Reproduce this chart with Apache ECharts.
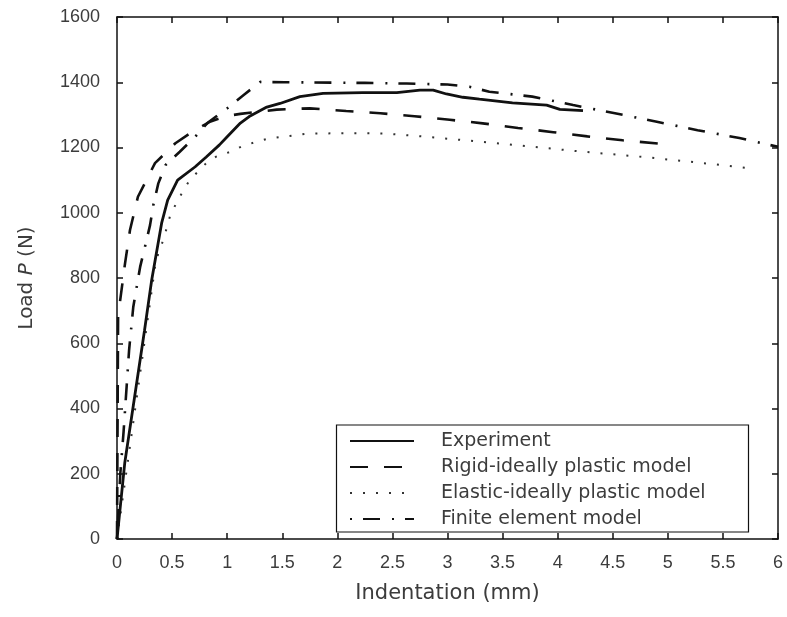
<!DOCTYPE html>
<html>
<head>
<meta charset="utf-8">
<title>Load vs Indentation</title>
<script src="https://cdn.jsdelivr.net/npm/echarts@6/dist/echarts.min.js"></script>
<style>
  html, body { margin: 0; padding: 0; background: #fff; }
  #chart { width: 787px; height: 617px; }
</style>
</head>
<body>
<div id="chart"></div>
<script>
// Series names as shown in the legend
const seriesNames = [
  'Experiment',
  'Rigid-ideally plastic model',
  'Elastic-ideally plastic model',
  'Finite element model'
];

// [indentation (mm), load (N)]
const experiment = [
  [0, 0], [0.07, 232], [0.16, 436], [0.25, 640], [0.315, 794], [0.405, 968],
  [0.46, 1039], [0.55, 1100], [0.71, 1141], [0.81, 1171], [0.93, 1208],
  [1.0, 1233], [1.12, 1275], [1.2, 1295], [1.36, 1324], [1.48, 1335],
  [1.66, 1356], [1.87, 1366], [2.23, 1368], [2.54, 1368], [2.75, 1376],
  [2.87, 1376], [2.99, 1364], [3.14, 1354], [3.29, 1348], [3.59, 1337],
  [3.90, 1330], [4.02, 1317], [4.23, 1313]
];

const rigidPlastic = [
  [0, 0], [0.01, 690], [0.027, 727], [0.073, 845], [0.118, 947], [0.19, 1049],
  [0.345, 1152], [0.53, 1213], [0.7, 1252], [0.85, 1280], [1.0, 1297],
  [1.12, 1303], [1.45, 1316], [1.75, 1320], [2.08, 1312], [2.39, 1305],
  [2.70, 1296], [3.02, 1285], [3.32, 1274], [3.64, 1260], [3.96, 1247],
  [4.27, 1234], [4.59, 1222], [4.91, 1212], [5.0, 1209]
];

const elasticPlastic = [
  [0, 0], [0.345, 834], [0.375, 876], [0.42, 916], [0.48, 988], [0.53, 1024],
  [0.59, 1061], [0.65, 1095], [0.72, 1121], [0.81, 1152], [0.90, 1172],
  [1.03, 1187], [1.13, 1203], [1.24, 1215], [1.36, 1226], [1.48, 1232],
  [1.6, 1237], [1.71, 1242], [2.05, 1244], [2.42, 1243], [2.77, 1234],
  [3.13, 1223], [3.60, 1208], [4.20, 1188], [4.81, 1170], [5.41, 1149],
  [5.73, 1137]
];

const finiteElement = [
  [0, 0], [0.03, 200], [0.06, 330], [0.09, 480], [0.11, 580], [0.148, 712],
  [0.21, 834], [0.254, 896], [0.30, 962], [0.33, 1024], [0.375, 1090],
  [0.44, 1146], [0.57, 1187], [0.71, 1233], [0.82, 1275], [1.0, 1320],
  [1.15, 1361], [1.30, 1401], [1.52, 1400], [2.25, 1398], [2.63, 1396],
  [3.0, 1393], [3.2, 1386], [3.38, 1371], [3.77, 1356], [4.14, 1330],
  [4.52, 1305], [4.90, 1279], [5.27, 1253], [5.65, 1229], [6.0, 1202]
];

const xRange = [0, 6, 0.5];
const yRange = [0, 1600, 200];

const ink = '#111';
const labelColor = '#3c3c3c';
const font = 'Liberation Sans, Arial, sans-serif';
const titleFont = 'DejaVu Sans, sans-serif';

const chart = echarts.init(document.getElementById('chart'), null, { renderer: 'canvas' });

const boxAxis = (extra) => Object.assign({
  type: 'value',
  axisLine: { show: true, onZero: false, lineStyle: { color: ink, width: 1.5 } },
  axisTick: { show: true, inside: true, length: 6, lineStyle: { color: ink, width: 1.5 } },
  splitLine: { show: false }
}, extra);

const plainNumber = (v) => String(v);

const lineSeries = (name, data, lineStyle, z) => ({
  name, type: 'line', data,
  symbol: 'none', showSymbol: false, smooth: false,
  lineStyle: Object.assign({ color: ink, cap: 'butt' }, lineStyle),
  itemStyle: { color: ink },
  animation: false, z
});

chart.setOption({
  backgroundColor: '#fff',
  animation: false,
  grid: { left: 117, right: 9, top: 17, bottom: 78, containLabel: false },
  xAxis: [
    boxAxis({
      position: 'bottom', min: xRange[0], max: xRange[1], interval: xRange[2],
      name: 'Indentation (mm)', nameLocation: 'middle', nameGap: 44,
      nameTextStyle: { fontFamily: titleFont, fontSize: 21, color: labelColor },
      axisLabel: { margin: 15, fontFamily: font, fontSize: 18, color: labelColor, formatter: plainNumber }
    }),
    boxAxis({
      position: 'top', min: xRange[0], max: xRange[1], interval: xRange[2],
      axisLabel: { show: false }
    })
  ],
  yAxis: [
    boxAxis({
      position: 'left', min: yRange[0], max: yRange[1], interval: yRange[2],
      name: 'Load {i|P} (N)', nameLocation: 'middle', nameGap: 80, nameRotate: 90,
      nameTextStyle: {
        fontFamily: titleFont, fontSize: 20, color: labelColor,
        rich: { i: { fontStyle: 'italic', fontFamily: titleFont, fontSize: 20, color: labelColor } }
      },
      axisLabel: { margin: 17, fontFamily: font, fontSize: 18, color: labelColor, formatter: plainNumber }
    }),
    boxAxis({
      position: 'right', min: yRange[0], max: yRange[1], interval: yRange[2],
      axisLabel: { show: false }
    })
  ],
  legend: {
    data: seriesNames,
    orient: 'vertical',
    left: 349, top: 431,
    padding: 0,
    itemWidth: 64, itemHeight: 20, itemGap: 6,
    itemStyle: { opacity: 0, borderWidth: 0 },
    textStyle: {
      fontFamily: titleFont, fontSize: 19, color: labelColor,
      lineHeight: 20, padding: [0, 0, 0, 22]
    },
    selectedMode: false
  },
  graphic: [{
    type: 'rect',
    shape: { x: 336.5, y: 425, width: 412, height: 107 },
    style: { fill: '#fff', stroke: ink, lineWidth: 1.2 },
    z: 0, zlevel: 0
  }],
  series: [
    lineSeries(seriesNames[0], experiment, { width: 2.8, type: 'solid' }, 5),
    lineSeries(seriesNames[1], rigidPlastic, { width: 2.6, type: [18, 16] }, 4),
    lineSeries(seriesNames[2], elasticPlastic, { width: 2, type: [2, 11], color: '#333' }, 3),
    lineSeries(seriesNames[3], finiteElement, { width: 2.6, type: [2, 11, 17, 12] }, 4)
  ]
});
</script>
</body>
</html>
